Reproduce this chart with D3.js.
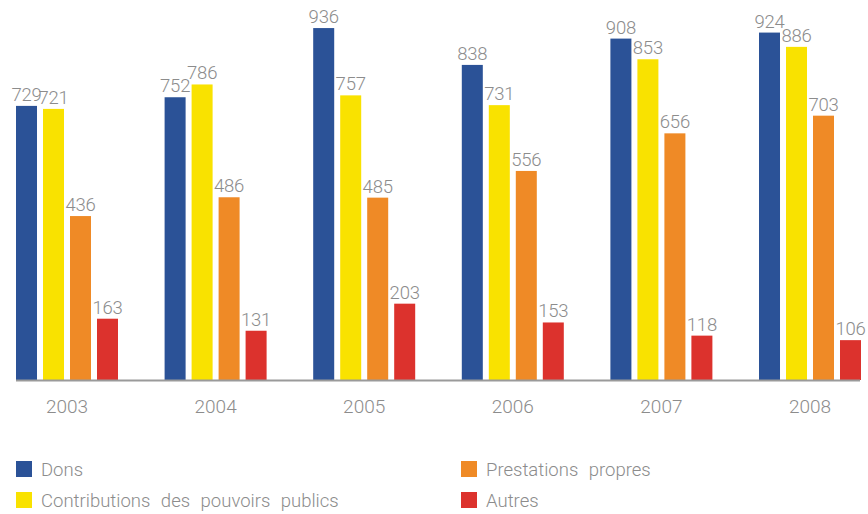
<!DOCTYPE html>
<html>
<head>
<meta charset="utf-8">
<script src="https://cdn.jsdelivr.net/npm/d3@7"></script>
<style>
  html, body { margin: 0; padding: 0; background: #fff; }
  svg text { font-family: Roboto, "Liberation Sans", sans-serif; font-weight: 300; fill: #8c8c8c; }
</style>
</head>
<body>
<svg id="chart" width="868" height="514"></svg>
<script>
const years = ["2003", "2004", "2005", "2006", "2007", "2008"];
const seriesNames = ["Dons", "Contributions des pouvoirs publics", "Prestations propres", "Autres"];
const seriesColors = ["#2b5297", "#f9e200", "#ef8a26", "#dc322d"];
const dons = [729, 752, 936, 838, 908, 924];
const contributions = [721, 786, 757, 731, 853, 886];
const prestations = [436, 486, 485, 556, 656, 703];
const autres = [163, 131, 203, 153, 118, 106];

const seriesValues = [dons, contributions, prestations, autres];

const svg = d3.select("#chart");

const x0 = d3.scaleBand().domain(years).range([16, 16 + 6 * 148.6]).padding(0);
const x1 = d3.scaleBand().domain(d3.range(seriesNames.length)).range([0, 102]).paddingInner(0.222).paddingOuter(0);
const y = d3.scaleLinear().domain([0, 1000]).range([380, 4]);

const groupW = 102;

// bars
const groups = svg.append("g").selectAll("g")
  .data(years)
  .join("g")
  .attr("transform", d => `translate(${x0(d)},0)`);

groups.selectAll("rect")
  .data((d, i) => seriesValues.map((s, k) => ({ k, v: s[i] })))
  .join("rect")
  .attr("x", d => x1(d.k))
  .attr("width", x1.bandwidth())
  .attr("y", d => y(d.v))
  .attr("height", d => y(0) - y(d.v))
  .attr("fill", d => seriesColors[d.k]);

groups.selectAll("text.val")
  .data((d, i) => seriesValues.map((s, k) => ({ k, v: s[i] })))
  .join("text")
  .attr("class", "val")
  .attr("x", d => x1(d.k) + x1.bandwidth() / 2)
  .attr("y", d => y(d.v) - 5)
  .attr("text-anchor", "middle")
  .style("font-size", "18.5px")
  .style("letter-spacing", "-0.2px")
  .text(d => d.v);

// axis line
svg.append("line")
  .attr("x1", 16).attr("x2", 860)
  .attr("y1", y(0) + 0.5).attr("y2", y(0) + 0.5)
  .attr("stroke", "#9a9a9a").attr("stroke-width", 2);

// year labels
svg.append("g").selectAll("text")
  .data(years)
  .join("text")
  .attr("x", d => x0(d) + groupW / 2)
  .attr("y", 413)
  .attr("text-anchor", "middle")
  .style("font-size", "19px")
  .text(d => d);

// legend
const legendPos = [
  { x: 16, y: 461 },
  { x: 16, y: 492 },
  { x: 461, y: 461 },
  { x: 461, y: 492 }
];
const legend = svg.append("g").selectAll("g")
  .data(seriesNames)
  .join("g")
  .attr("transform", (d, i) => `translate(${legendPos[i].x},${legendPos[i].y})`);
legend.append("rect")
  .attr("width", 16).attr("height", 16)
  .attr("fill", (d, i) => seriesColors[i]);
legend.append("text")
  .attr("x", 25).attr("y", 15)
  .style("font-size", "18.5px")
  .style("word-spacing", "6px")
  .text(d => d);
</script>
</body>
</html>
